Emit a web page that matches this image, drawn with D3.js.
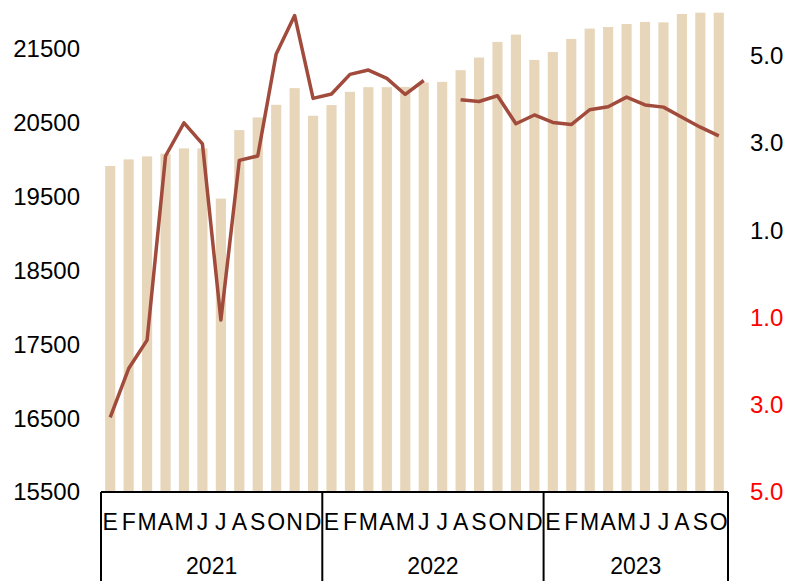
<!DOCTYPE html>
<html>
<head>
<meta charset="utf-8">
<script src="https://cdn.jsdelivr.net/npm/d3@7"></script>
<style>
  body { margin: 0; background: #fff; }
  text { font-family: "Liberation Sans", Arial, sans-serif; }
</style>
</head>
<body>
<div id="chart"></div>
<script>
// months, Jan 2021 .. Oct 2023 (Spanish initials)
const monthLetters = ["E","F","M","A","M","J","J","A","S","O","N","D"];
const years = ["2021", "2022", "2023"];
const monthsPerYear = [12, 12, 10];

// bars (left axis)
const barValues = [
  19915, 20004, 20045, 20081, 20153, 20153, 19473, 20401, 20572, 20743, 20969, 20595,
  20740, 20919, 20982, 20982, 20986, 21045, 21054, 21212, 21383, 21595, 21694, 21351,
  21459, 21635, 21775, 21797, 21838, 21865, 21860, 21973, 21991, 21991
];

// line (right axis), null = no data
const lineValues = [
  -3.29, -2.17, -1.52, 2.70, 3.46, 2.98, -1.06, 2.60, 2.70, 5.04, 5.92, 4.02,
  4.12, 4.57, 4.67, 4.48, 4.11, 4.43, null, 3.99, 3.95, 4.08, 3.44, 3.64,
  3.47, 3.42, 3.76, 3.83, 4.05, 3.87, 3.82, 3.59, 3.36, 3.16
];

const leftTicks = [15500, 16500, 17500, 18500, 19500, 20500, 21500];
const rightTicks = [-5, -3, -1, 1, 3, 5];

const width = 793, height = 581;
const plotL = 101, plotR = 728, plotT = 12, plotB = 492;

const svg = d3.select("#chart").append("svg")
  .attr("width", width)
  .attr("height", height);

const idx = d3.range(barValues.length);

const x = d3.scaleBand()
  .domain(idx)
  .range([plotL, plotR])
  .paddingInner(0.45)
  .paddingOuter(0.225);

const xc = i => x(i) + x.bandwidth() / 2;

const y = d3.scaleLinear().domain([15500, 22000]).range([plotB, plotT]);
const y2 = d3.scaleLinear().domain([-5, 6]).range([plotB, plotT]);

// bars
svg.append("g").selectAll("rect")
  .data(barValues)
  .join("rect")
  .attr("x", (d, i) => x(i))
  .attr("width", x.bandwidth())
  .attr("y", d => y(d))
  .attr("height", d => plotB - y(d))
  .attr("fill", "#e7d6ba");

// line
const line = d3.line()
  .defined(d => d != null)
  .x((d, i) => xc(i))
  .y(d => y2(d));

svg.append("path")
  .datum(lineValues)
  .attr("d", line)
  .attr("fill", "none")
  .attr("stroke", "#a14b3c")
  .attr("stroke-width", 3.5)
  .attr("stroke-linejoin", "round");

// left axis labels
svg.append("g").selectAll("text")
  .data(leftTicks)
  .join("text")
  .attr("x", 80)
  .attr("y", d => y(d))
  .attr("dy", "0.35em")
  .attr("text-anchor", "end")
  .attr("font-size", 24)
  .text(d => d);

// right axis labels (negatives red, no sign)
svg.append("g").selectAll("text")
  .data(rightTicks)
  .join("text")
  .attr("x", 750)
  .attr("y", d => y2(d))
  .attr("dy", "0.35em")
  .attr("text-anchor", "start")
  .attr("font-size", 24)
  .attr("fill", d => d < 0 ? "#ff0000" : "#000")
  .text(d => Math.abs(d).toFixed(1));

// x axis frame
const axisG = svg.append("g")
  .attr("stroke", "#000")
  .attr("stroke-width", 2);

axisG.append("line")
  .attr("x1", plotL).attr("x2", plotR)
  .attr("y1", plotB).attr("y2", plotB);

let start = 0;
const bounds = [plotL];
monthsPerYear.forEach(n => {
  start += n;
  bounds.push(start < barValues.length ? x(start) - x.step() * x.paddingInner() / 2 : plotR);
});

axisG.selectAll("line.sep")
  .data(bounds)
  .join("line")
  .attr("class", "sep")
  .attr("x1", d => d).attr("x2", d => d)
  .attr("y1", plotB).attr("y2", height);

// month letters
svg.append("g").selectAll("text")
  .data(idx)
  .join("text")
  .attr("x", i => xc(i))
  .attr("y", 530)
  .attr("text-anchor", "middle")
  .attr("font-size", 23)
  .text(i => monthLetters[i % 12]);

// year labels
svg.append("g").selectAll("text")
  .data(years)
  .join("text")
  .attr("x", (d, i) => (bounds[i] + bounds[i + 1]) / 2)
  .attr("y", 574)
  .attr("text-anchor", "middle")
  .attr("font-size", 23)
  .text(d => d);
</script>
</body>
</html>
